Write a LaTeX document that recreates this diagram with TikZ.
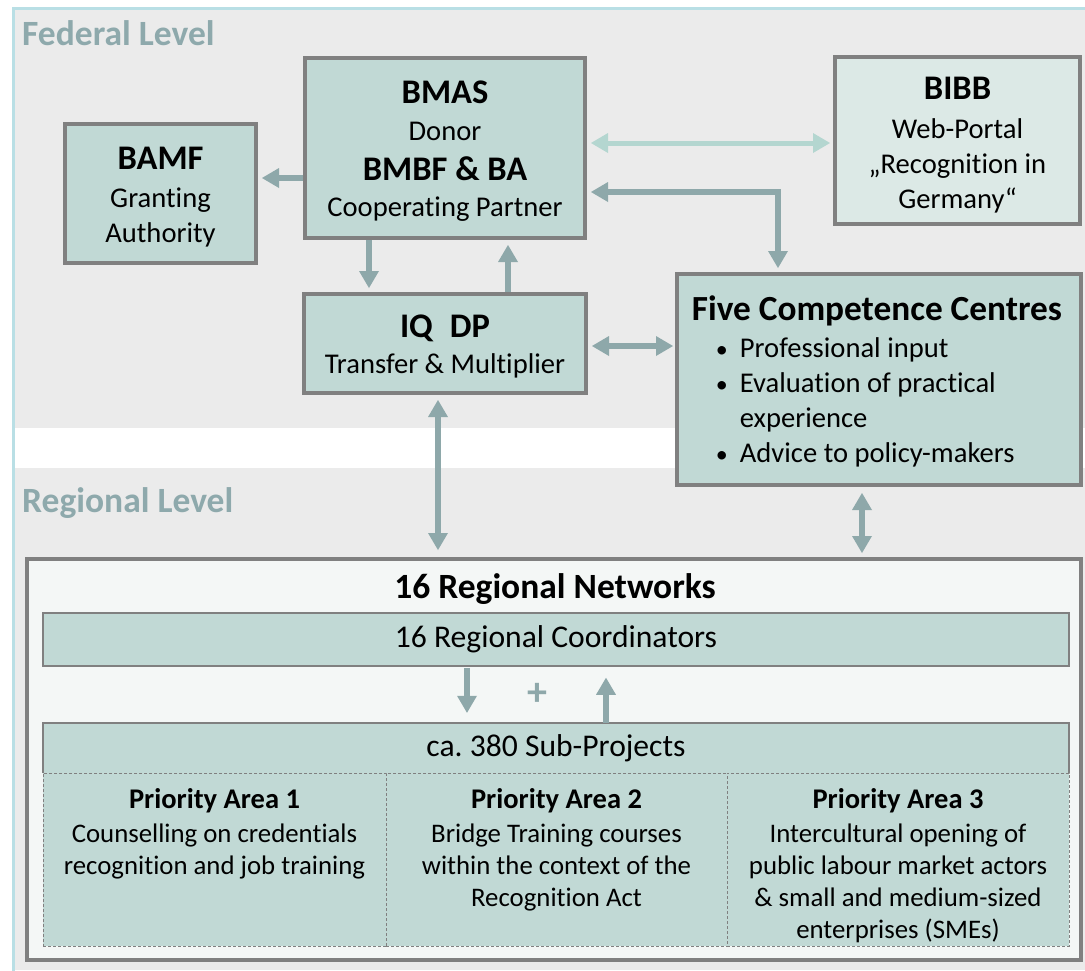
\documentclass[tikz,border=0pt]{standalone}
\usepackage{fontspec}
\setmainfont{Carlito}[Ligatures=NoCommon]
\usetikzlibrary{arrows.meta}
\definecolor{bggrey}{HTML}{EBEBEB}
\definecolor{frameblue}{HTML}{B9DFE5}
\definecolor{boxfill}{HTML}{C1D9D5}
\definecolor{bibbfill}{HTML}{DCE9E6}
\definecolor{regfill}{HTML}{F4F7F6}
\definecolor{boxline}{HTML}{808080}
\definecolor{arrowc}{HTML}{8EA8AA}
\definecolor{lightarrow}{HTML}{B4D6D0}
\definecolor{leveltext}{HTML}{8EA9AC}
\newcommand\boxhead[1]{{\bfseries\fontsize{34.5}{35}\selectfont #1}}
\newcommand\bighead[1]{{\bfseries\fontsize{35.3}{35}\selectfont #1}}
\newcommand\cellhead[1]{{\bfseries\fontsize{28.5}{32}\selectfont #1}}
\newcommand\fiveitem{\hspace*{24pt}\makebox[24pt][l]{{\fontsize{24}{24}\selectfont •}}}
\begin{document}
\begin{tikzpicture}[x=1pt,y=-1pt,
  box/.style={draw=boxline, line width=4pt, fill=boxfill, inner sep=0pt},
  boxtext/.style={inner sep=0pt, align=center, font=\fontsize{28.6}{35}\selectfont},
  thinbox/.style={draw=boxline, line width=1.5pt, fill=boxfill, inner sep=0pt,
    font=\fontsize{31.6}{35}\selectfont},
  cell/.style={draw=boxline, line width=1pt, dash pattern=on 3pt off 2pt, fill=boxfill, inner sep=0pt},
  celltext/.style={anchor=north, inner sep=0pt, align=center, font=\fontsize{26.8}{32}\selectfont},
  level/.style={anchor=base west, inner sep=0pt, text=leveltext, font=\bfseries\fontsize{35.5}{36}\selectfont},
  tipA/.tip={Triangle[width=20pt,length=17pt,line width=0pt]},
  arr/.style={draw=arrowc, line width=6pt, -tipA},
  darr/.style={draw=arrowc, line width=6pt, tipA-tipA},
  larr/.style={draw=lightarrow, line width=5pt, tipA-tipA}
]
\useasboundingbox (0,0) rectangle (1085,970);
\clip (0,0) rectangle (1085,970);
\fill[white] (0,0) rectangle (1085,970);
% backgrounds
\fill[bggrey] (15,10) rectangle (1085,428);
\fill[white] (15,428) rectangle (1085,468);
\fill[bggrey] (15,468) rectangle (1085,970);
\draw[frameblue, line width=3pt] (13.5,8.5) rectangle (1100,990);
% level titles
\node[level] (fed) at (22,45) {Federal Level};
\node[level] (regl) at (22,512) {Regional Level};
% federal boxes
\node[box, minimum width=191pt, minimum height=139pt] (bamf) at (160.5,193.5) {};
\node[boxtext] (bamft) at ([yshift=-4pt]bamf.center)
  {\boxhead{BAMF}\\[3pt]Granting\\Authority};
\node[box, minimum width=280pt, minimum height=180pt] (bmas) at (445,148) {};
\node[boxtext] (bmast) at ([yshift=-3pt]bmas.center)
  {\boxhead{BMAS}\\[2pt]Donor\\[5pt]\boxhead{BMBF \& BA}\\[1pt]Cooperating Partner};
\node[box, fill=bibbfill, minimum width=245pt, minimum height=167pt] (bibb) at (957.5,140.5) {};
\node[boxtext] (bibbt) at ([yshift=-5pt]bibb.center)
  {\boxhead{BIBB}\\[4pt]Web-Portal\\„Recognition in\\Germany“};
\node[box, minimum width=282pt, minimum height=99pt] (iqdp) at (445,343.5) {};
\node[boxtext] (iqdpt) at ([yshift=-3pt]iqdp.center)
  {\boxhead{IQ\hspace{17pt}DP}\\[1pt]Transfer \& Multiplier};
\node[box, minimum width=404pt, minimum height=211pt] (five) at (879,379.5) {};
\node[boxtext, align=left] (fivet) at ([xshift=-2pt,yshift=-2pt]five.center)
  {\bighead{Five Competence Centres}\\[2pt]\fiveitem Professional input\\
   \fiveitem Evaluation of practical\\ \hspace*{48pt}experience\\
   \fiveitem Advice to policy-makers};
% regional
\node[draw=boxline, line width=4pt, fill=regfill, minimum width=1054pt, minimum height=401pt, inner sep=0pt] (reg) at (554,759.5) {};
\node[anchor=base, inner sep=0pt, font=\bfseries\fontsize{35.5}{36}\selectfont] (regt) at (555,598) {16 Regional Networks};
\node[thinbox, minimum width=1026pt, minimum height=53pt] (coord) at (556,639.5) {16 Regional Coordinators};
\node[fill=boxfill, inner sep=0pt, minimum width=1026pt, minimum height=50pt, font=\fontsize{31.6}{35}\selectfont] (sub) at (556,748) {ca.\ 380 Sub-Projects};
\draw[boxline, line width=1.5pt] (sub.south west) |- (sub.north east) -- (sub.south east);
\node[cell, minimum width=343pt, minimum height=173pt] (pa1) at (214.5,859.5) {};
\node[cell, minimum width=341pt, minimum height=173pt] (pa2) at (556.5,859.5) {};
\node[cell, minimum width=342pt, minimum height=173pt] (pa3) at (898,859.5) {};
\node[celltext] (pa1t) at ([yshift=-16pt]pa1.north)
  {\cellhead{Priority Area 1}\\[2pt]Counselling on credentials\\recognition and job training};
\node[celltext] (pa2t) at ([yshift=-16pt]pa2.north)
  {\cellhead{Priority Area 2}\\[2pt]Bridge Training courses\\within the context of the\\Recognition Act};
\node[celltext] (pa3t) at ([yshift=-16pt]pa3.north)
  {\cellhead{Priority Area 3}\\[2pt]Intercultural opening of\\public labour market actors\\\& small and medium-sized\\enterprises (SMEs)};
\node[inner sep=0pt, text=arrowc, font=\bfseries\fontsize{40}{40}\selectfont] (plus) at (537,694) {+};
% helper coordinates
\coordinate (y143) at (0,143);
\coordinate (y178) at (0,178);
\coordinate (y192) at (0,192);
\coordinate (y346) at (0,346);
\coordinate (x369) at (369,0);
\coordinate (x438) at (438,0);
\coordinate (x467) at (467,0);
\coordinate (x508) at (508,0);
\coordinate (x606) at (606,0);
\coordinate (x778) at (778,0);
\coordinate (x862) at (862,0);
% connectors
\draw[arr, shorten >=4pt] (bmas.west |- y178) -- (bamf.east |- y178);
\draw[larr, shorten <=4pt, shorten >=3pt] (bmas.east |- y143) -- (bibb.west |- y143);
\draw[darr, shorten <=4pt, shorten >=4pt] (bmas.east |- y192) -| (five.north -| x778);
\draw[arr, shorten >=4pt] (bmas.south -| x369) -- (iqdp.north -| x369);
\draw[arr, shorten >=5pt] (iqdp.north -| x508) -- (bmas.south -| x508);
\draw[darr, shorten <=4pt, shorten >=2pt] (iqdp.east |- y346) -- (five.west |- y346);
\draw[darr, shorten <=5pt, shorten >=7pt] (iqdp.south -| x438) -- (reg.north -| x438);
\draw[darr, shorten <=6pt, shorten >=4pt] (five.south -| x862) -- (reg.north -| x862);
\draw[arr, shorten <=1pt, shorten >=10pt] (coord.south -| x467) -- (sub.north -| x467);
\draw[arr, shorten >=11pt] (sub.north -| x606) -- (coord.south -| x606);
\end{tikzpicture}
\end{document}
